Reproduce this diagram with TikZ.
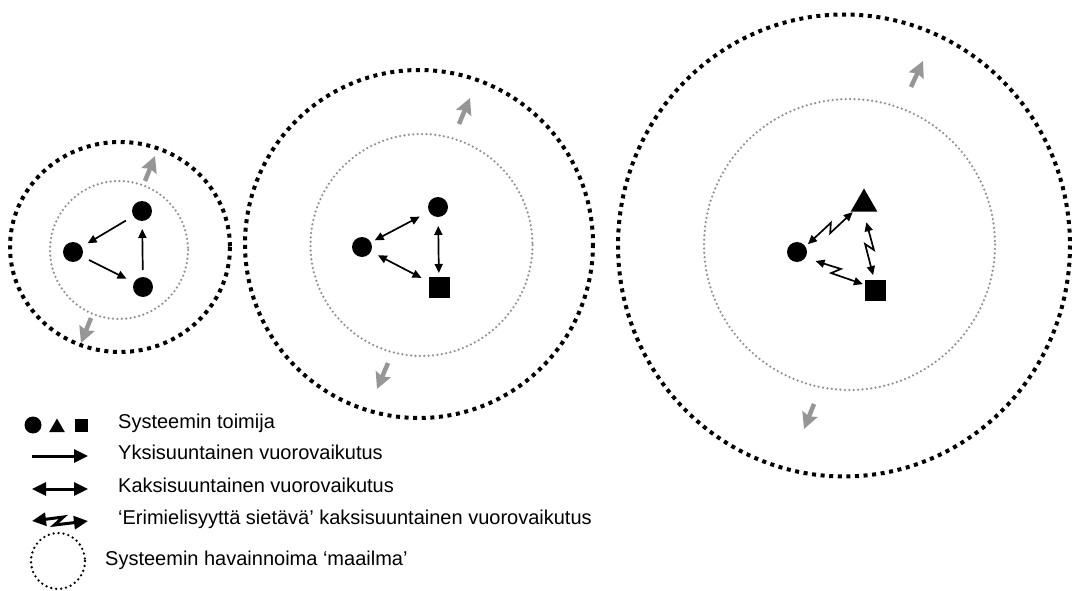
\documentclass[tikz,border=0pt]{standalone}
\usepackage{fontspec}
\setmainfont{Liberation Sans}
\usetikzlibrary{arrows.meta,calc,shapes.geometric}

\definecolor{horizongray}{RGB}{145,145,145}
\definecolor{growgray}{RGB}{150,150,150}

\begin{document}
\begin{tikzpicture}[x=1pt,y=-1pt,
  world/.style={draw=black, line width=4pt, dash pattern=on 4pt off 4.6pt},
  horizon/.style={draw=horizongray, line width=2.5pt, line cap=round, dash pattern=on 0pt off 4.4pt},
  minworld/.style={draw=black, line width=2.6pt, line cap=round, dash pattern=on 0pt off 5pt},
  actor/.style={fill=black, draw=none, inner sep=0pt, outer sep=0pt},
  dot/.style={actor, circle, minimum size=20pt},
  sq/.style={actor, rectangle, minimum size=21pt},
  tri/.style={actor, regular polygon, regular polygon sides=3, minimum size=31pt},
  link/.style={line width=1.7pt, line join=miter},
  one/.style={link, -{Triangle[length=9pt,width=8pt]}},
  two/.style={link, {Triangle[length=9pt,width=8pt]}-{Triangle[length=9pt,width=8pt]}},
  bigone/.style={line width=3pt, -{Triangle[length=14pt,width=13pt]}},
  bigtwo/.style={line width=3pt, {Triangle[length=14pt,width=13pt]}-{Triangle[length=14pt,width=13pt]}},
  expandarrow/.style={draw=growgray, line width=4.5pt, -{Stealth[length=16pt,width=16pt,inset=2.5pt]}},
  legendtext/.style={anchor=mid west, inner sep=0pt, font=\fontsize{20}{24}\selectfont},
]
\useasboundingbox (0,0) rectangle (1072,591);

% ---------- smallest system: one-way interaction ----------
\draw[world] (120,247) ellipse [x radius=110, y radius=105];
\draw[horizon] (119,250) circle [radius=69];
\node[dot] (a1) at (142,211) {};
\node[dot] (b1) at (73,252) {};
\node[dot] (c1) at (143,287) {};
\draw[one] ($(a1)!18.8pt!(b1)$) -- ($(b1)!17pt!(a1)$);
\draw[one] ($(b1)!17.8pt!(c1)$) -- ($(c1)!18.4pt!(b1)$);
\draw[one] ($(c1)!17pt!(a1)$) -- ($(a1)!18pt!(c1)$);
\coordinate (g1a) at (145,181); \coordinate (g1b) at (155,156);
\coordinate (g1c) at (91,318);  \coordinate (g1d) at (81,343);
\draw[expandarrow] (g1a) -- (g1b);
\draw[expandarrow] (g1c) -- (g1d);

% ---------- middle system: two-way interaction ----------
\draw[world] (419,244) circle [radius=174];
\draw[horizon] (421.5,245) circle [radius=111];
\node[dot] (a2) at (438,207) {};
\node[dot] (b2) at (362,247) {};
\node[sq]  (c2) at (439,287) {};
\draw[two] ($(a2)!20.6pt!(b2)$) -- ($(b2)!14.3pt!(a2)$);
\draw[two] ($(b2)!17.9pt!(c2)$) -- ($(c2)!19.7pt!(b2)$);
\draw[two] ($(a2)!19pt!(c2)$) -- ($(c2)!14pt!(a2)$);
\coordinate (g2a) at (459,124); \coordinate (g2b) at (470,98);
\coordinate (g2c) at (388,363); \coordinate (g2d) at (377,389);
\draw[expandarrow] (g2a) -- (g2b);
\draw[expandarrow] (g2c) -- (g2d);

% ---------- largest system: disagreement-tolerant interaction ----------
\draw[world] (844,245.5) ellipse [x radius=226, y radius=231];
\draw[horizon] (849.5,244.5) circle [radius=145.5];
\node[tri] (a3) at (864,204) {};
\node[dot] (b3) at (797,252) {};
\node[sq]  (c3) at (875,290) {};
\draw[two] ($(b3)!13.4pt!(a3)$)
  -- ($(b3)!0.54!(a3)!4pt!90:(a3)$)
  -- ($(b3)!0.46!(a3)!4pt!-90:(a3)$)
  -- ($(a3)!13.9pt!(b3)$);
\draw[two] ($(a3)!18.4pt!(c3)$)
  -- ($(a3)!0.54!(c3)!4pt!90:(c3)$)
  -- ($(a3)!0.46!(c3)!4pt!-90:(c3)$)
  -- ($(c3)!15pt!(a3)$);
\draw[two] ($(b3)!20.6pt!(c3)$)
  -- ($(b3)!0.54!(c3)!4pt!90:(c3)$)
  -- ($(b3)!0.46!(c3)!4pt!-90:(c3)$)
  -- ($(c3)!13.4pt!(b3)$);
\coordinate (g3a) at (911,87);  \coordinate (g3b) at (923,61);
\coordinate (g3c) at (814,404); \coordinate (g3d) at (804,429);
\draw[expandarrow] (g3a) -- (g3b);
\draw[expandarrow] (g3c) -- (g3d);

% ---------- legend ----------
\node[actor, circle, minimum size=17pt] (ldot) at (33,425) {};
\node[actor, regular polygon, regular polygon sides=3, minimum size=18pt] (ltri) at (57,427.5) {};
\node[actor, rectangle, minimum size=13pt] (lsq) at (81,425) {};
\node[legendtext] (t1) at (118,426) {Systeemin toimija};

\coordinate (l2a) at (32,456); \coordinate (l2b) at (88,456);
\draw[bigone] (l2a) -- (l2b);
\node[legendtext] (t2) at (118,457) {Yksisuuntainen vuorovaikutus};

\coordinate (l3a) at (32,489); \coordinate (l3b) at (88,489);
\draw[bigtwo] (l3a) -- (l3b);
\node[legendtext] (t3) at (118,490) {Kaksisuuntainen vuorovaikutus};

\coordinate (l4a) at (32,521); \coordinate (l4b) at (88,521);
\draw[bigtwo, line join=miter] (l4a)
  -- ($(l4a)!0.56!(l4b)!4pt!90:(l4b)$)
  -- ($(l4a)!0.40!(l4b)!4pt!-90:(l4b)$)
  -- (l4b);
\node[legendtext] (t4) at (118,522) {‘Erimielisyyttä sietävä’ kaksisuuntainen vuorovaikutus};

\draw[minworld] (58,561) ellipse [x radius=27, y radius=28];
\node[legendtext] (t5) at (105,563) {Systeemin havainnoima ‘maailma’};
\end{tikzpicture}
\end{document}
